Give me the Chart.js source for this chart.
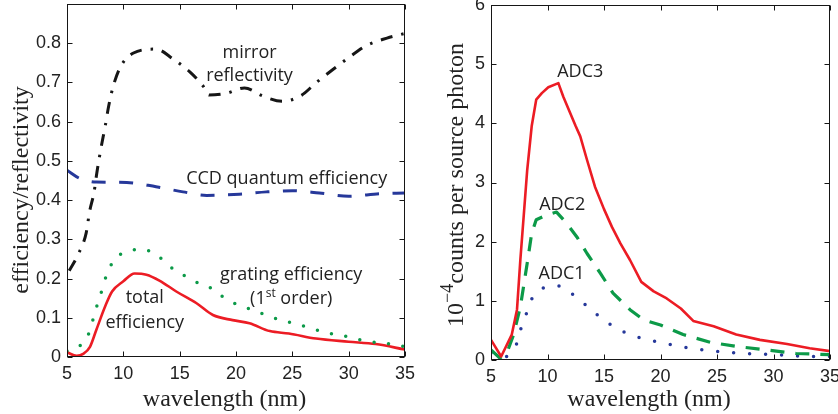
<!DOCTYPE html>
<html>
<head>
<meta charset="utf-8">
<script src="https://cdn.jsdelivr.net/npm/chart.js@4/dist/chart.umd.min.js"></script>
<style>
  html, body { margin: 0; padding: 0; background: #fff; }
  #wrap { position: relative; width: 838px; height: 414px; }
  canvas { position: absolute; top: 0; }
  #effChart { left: 0; }
  #countChart { left: 420px; }
</style>
</head>
<body>
<div id="wrap">
  <canvas id="effChart" width="420" height="414" style="width:420px;height:414px"></canvas>
  <canvas id="countChart" width="418" height="414" style="width:418px;height:414px"></canvas>
</div>
<script>
// ---- wavelength axis (nm) ----
const wavelengthTicks = [5, 10, 15, 20, 25, 30, 35];

// ---- left panel: component efficiencies ----
const effTicks = [0, 0.1, 0.2, 0.3, 0.4, 0.5, 0.6, 0.7, 0.8];

const mirrorWl = [5.2, 6.0, 6.7, 7.0, 7.4, 7.65, 8.0, 8.4, 8.7, 9.1, 9.75, 10.9, 12.9, 14.4, 15.9, 17.1, 17.6, 19.1, 20.75, 22.4, 24.1, 25.8, 27.1, 28.6, 30.0, 31.5, 33.4, 35.0];
const mirrorRefl = [0.22, 0.262, 0.316, 0.37, 0.42, 0.47, 0.53, 0.59, 0.64, 0.69, 0.74, 0.775, 0.785, 0.76, 0.727, 0.69, 0.668, 0.672, 0.686, 0.665, 0.652, 0.667, 0.699, 0.733, 0.763, 0.793, 0.813, 0.825];

const ccdWl = [5.0, 6.15, 7.6, 10.3, 12.9, 15.3, 17.4, 20.3, 22.7, 25.0, 27.4, 30.0, 32.7, 35.0];
const ccdQE = [0.476, 0.455, 0.446, 0.445, 0.434, 0.421, 0.412, 0.415, 0.421, 0.424, 0.418, 0.41, 0.416, 0.418];

const gratingWl = [5.0, 6.2, 6.9, 7.3, 7.7, 8.1, 8.5, 9.16, 10.4, 11.75, 13.1, 14.2, 15.4, 16.7, 17.95, 18.8, 20.1, 21.5, 22.8, 24.1, 25.5, 26.9, 28.3, 29.7, 31.1, 32.5, 34.0, 35.0];
const gratingEff = [0.015, 0.03, 0.058, 0.095, 0.135, 0.17, 0.208, 0.246, 0.27, 0.274, 0.257, 0.229, 0.208, 0.188, 0.173, 0.154, 0.134, 0.12, 0.105, 0.093, 0.083, 0.071, 0.06, 0.053, 0.043, 0.037, 0.032, 0.026];

const totalWl = [5.0, 5.86, 6.44, 7.04, 7.6, 8.4, 9.0, 10.0, 11.0, 12.05, 13.2, 14.7, 16.5, 17.95, 19.7, 21.2, 23.0, 24.7, 27.1, 30.0, 32.4, 35.0];
const totalEff = [0.012, 0.003, 0.008, 0.026, 0.069, 0.13, 0.167, 0.193, 0.213, 0.21, 0.195, 0.167, 0.137, 0.107, 0.094, 0.086, 0.066, 0.06, 0.047, 0.039, 0.033, 0.019];

// ---- right panel: counts per source photon (x 1e-4) ----
const countTicks = [0, 1, 2, 3, 4, 5, 6];

const adc3Wl = [5.0, 5.9, 6.84, 7.3, 7.6, 7.9, 8.2, 8.6, 9.0, 9.5, 10.07, 10.96, 11.4, 12.5, 12.9, 13.5, 14.2, 15.0, 15.7, 16.45, 17.3, 18.3, 19.4, 20.55, 21.8, 22.9, 24.7, 26.7, 28.8, 31.2, 33.2, 35.0];
const adc3 = [0.34, 0.06, 0.43, 0.85, 1.7, 2.45, 3.2, 3.95, 4.4, 4.51, 4.61, 4.68, 4.45, 3.95, 3.78, 3.38, 2.93, 2.55, 2.25, 1.97, 1.69, 1.32, 1.16, 1.04, 0.87, 0.66, 0.57, 0.43, 0.34, 0.27, 0.2, 0.15];

const adc2Wl = [5.0, 5.8, 6.5, 7.0, 7.6, 8.2, 8.6, 9.0, 9.9, 10.8, 11.7, 12.6, 13.5, 14.7, 15.8, 17.3, 18.5, 20.0, 22.0, 24.4, 26.7, 29.4, 32.0, 35.0];
const adc2 = [0.17, 0.03, 0.17, 0.43, 0.9, 1.63, 2.14, 2.37, 2.45, 2.5, 2.31, 2.08, 1.8, 1.46, 1.13, 0.85, 0.68, 0.59, 0.43, 0.3, 0.23, 0.17, 0.11, 0.09];

const adc1Wl = [5.0, 6.4, 7.3, 7.7, 8.2, 8.7, 9.7, 11.05, 12.3, 13.45, 14.6, 15.7, 17.0, 18.4, 19.9, 21.4, 22.85, 24.3, 25.8, 27.3, 28.75, 30.2, 31.7, 33.2, 35.0];
const adc1 = [0.12, 0.06, 0.28, 0.57, 0.82, 1.08, 1.23, 1.25, 1.1, 0.92, 0.73, 0.58, 0.45, 0.36, 0.3, 0.24, 0.19, 0.16, 0.13, 0.11, 0.1, 0.09, 0.07, 0.06, 0.06];

// ---- styling ----
const RED = '#ec1c24', GREEN = '#0c9a48', BLUE = '#26389a', BLACK = '#161616';
const SANS = '"Liberation Sans", Arial, sans-serif';
const LABEL = '"Open Sans", "Noto Sans", sans-serif';
const SERIF = '"Liberation Serif", "Times New Roman", serif';
const TEXT = '#222';

const pts = (xs, ys) => xs.map((x, i) => ({ x, y: ys[i] }));

// draw a row of text runs (for superscripts) centred on cx, baseline at by
function drawRuns(ctx, cx, by, runs, family) {
  let w = 0;
  runs.forEach(r => { ctx.font = r.size + 'px ' + family; r.w = ctx.measureText(r.text).width; w += r.w; });
  let x = cx - w / 2;
  runs.forEach(r => {
    ctx.font = r.size + 'px ' + family;
    ctx.fillText(r.text, x, by + (r.dy || 0));
    x += r.w;
  });
}

// box, inward ticks on all four sides, in-plot labels and axis titles
const framePlugin = {
  id: 'frame',
  afterDatasetsDraw(chart, args, opts) {
    const { ctx, chartArea: a, scales: { x, y } } = chart;
    ctx.save();
    ctx.strokeStyle = BLACK;
    ctx.lineWidth = 1;
    const L = Math.round(a.left) + 0.5, R = Math.round(a.right) - 0.5;
    const T = Math.round(a.top) + 0.5, B = Math.round(a.bottom) - 0.5;
    ctx.strokeRect(L, T, R - L, B - T);
    const tl = 5;
    ctx.beginPath();
    x.ticks.forEach(t => {
      const p = Math.round(x.getPixelForValue(t.value)) + 0.5;
      ctx.moveTo(p, B); ctx.lineTo(p, B - tl);
      ctx.moveTo(p, T); ctx.lineTo(p, T + tl);
    });
    y.ticks.forEach(t => {
      const p = Math.round(y.getPixelForValue(t.value)) + 0.5;
      ctx.moveTo(L, p); ctx.lineTo(L + tl, p);
      ctx.moveTo(R, p); ctx.lineTo(R - tl, p);
    });
    ctx.stroke();

    ctx.fillStyle = TEXT;
    ctx.textBaseline = 'alphabetic';
    ctx.textAlign = 'left';
    (opts.labels || []).forEach(l => {
      drawRuns(ctx, x.getPixelForValue(l.x), y.getPixelForValue(l.y), l.runs, LABEL);
    });

    // axis titles
    const xt = opts.xTitle;
    drawRuns(ctx, xt.cx, xt.by, xt.runs, SERIF);
    const yt = opts.yTitle;
    ctx.save();
    ctx.translate(yt.bx, yt.cy);
    ctx.rotate(-Math.PI / 2);
    drawRuns(ctx, 0, 0, yt.runs, SERIF);
    ctx.restore();
    ctx.restore();
  }
};

function axisOptions(yTicks, yMax, yWidth, xHeight, yFmt) {
  return {
    x: {
      type: 'linear', min: 5, max: 35,
      afterBuildTicks: s => { s.ticks = wavelengthTicks.map(v => ({ value: v })); },
      afterFit: s => { s.height = xHeight; s.paddingLeft = 0; s.paddingRight = 0; },
      grid: { display: false, drawTicks: false },
      border: { display: false },
      ticks: { color: TEXT, font: { family: SANS, size: 18 }, padding: 6, maxRotation: 0 }
    },
    y: {
      type: 'linear', min: 0, max: yMax,
      afterBuildTicks: s => { s.ticks = yTicks.map(v => ({ value: v })); },
      afterFit: s => { s.width = yWidth; s.paddingTop = 0; s.paddingBottom = 0; },
      grid: { display: false, drawTicks: false },
      border: { display: false },
      ticks: { color: TEXT, font: { family: SANS, size: 18 }, padding: 6, callback: yFmt }
    }
  };
}

const lineBase = { pointRadius: 0, fill: false, borderJoinStyle: 'round' };

new Chart(document.getElementById('effChart'), {
  type: 'line',
  data: {
    datasets: [
      Object.assign({ label: 'mirror reflectivity', data: pts(mirrorWl, mirrorRefl), borderColor: BLACK,
        borderWidth: 3, borderDash: [12, 9, 2.5, 9], cubicInterpolationMode: 'monotone' }, lineBase),
      Object.assign({ label: 'CCD quantum efficiency', data: pts(ccdWl, ccdQE), borderColor: BLUE,
        borderWidth: 3, borderDash: [14, 13.5], cubicInterpolationMode: 'monotone' }, lineBase),
      Object.assign({ label: 'grating efficiency (1st order)', data: pts(gratingWl, gratingEff), borderColor: GREEN,
        borderWidth: 3.5, borderDash: [0, 14.5], borderCapStyle: 'round', cubicInterpolationMode: 'monotone' }, lineBase),
      Object.assign({ label: 'total efficiency', data: pts(totalWl, totalEff), borderColor: RED,
        borderWidth: 2.6, cubicInterpolationMode: 'monotone' }, lineBase)
    ]
  },
  options: {
    responsive: false, animation: false, devicePixelRatio: 1,
    layout: { padding: { top: 4, right: 15, bottom: 0, left: 0 } },
    scales: axisOptions(effTicks, 0.9, 67, 57, v => (v === 0 ? '0' : v.toFixed(1))),
    plugins: {
      legend: { display: false }, tooltip: { enabled: false },
      frame: {
        labels: [
          { x: 21.2, y: 0.763, runs: [{ text: 'mirror', size: 18 }] },
          { x: 21.2, y: 0.704, runs: [{ text: 'reflectivity', size: 18 }] },
          { x: 24.5, y: 0.442, runs: [{ text: 'CCD quantum efficiency', size: 18 }] },
          { x: 24.9, y: 0.197, runs: [{ text: 'grating efficiency', size: 18 }] },
          { x: 24.9, y: 0.135, runs: [{ text: '(1', size: 18 }, { text: 'st', size: 12, dy: -7 }, { text: ' order)', size: 18 }] },
          { x: 11.9, y: 0.137, runs: [{ text: 'total', size: 18 }] },
          { x: 11.9, y: 0.075, runs: [{ text: 'efficiency', size: 18 }] }
        ],
        xTitle: { cx: 224.5, by: 406, runs: [{ text: 'wavelength (nm)', size: 24 }] },
        yTitle: { bx: 28, cy: 190, runs: [{ text: 'efficiency/reflectivity', size: 24 }] }
      }
    }
  },
  plugins: [framePlugin]
});

new Chart(document.getElementById('countChart'), {
  type: 'line',
  data: {
    datasets: [
      Object.assign({ label: 'ADC3', data: pts(adc3Wl, adc3), borderColor: RED, borderWidth: 2.6, tension: 0 }, lineBase),
      Object.assign({ label: 'ADC2', data: pts(adc2Wl, adc2), borderColor: GREEN, borderWidth: 3.2,
        borderDash: [14, 11], tension: 0 }, lineBase),
      Object.assign({ label: 'ADC1', data: pts(adc1Wl, adc1), borderColor: BLUE, borderWidth: 3.5,
        borderDash: [0, 16], borderCapStyle: 'round', tension: 0 }, lineBase)
    ]
  },
  options: {
    responsive: false, animation: false, devicePixelRatio: 1,
    layout: { padding: { top: 5, right: 8, bottom: 0, left: 0 } },
    scales: axisOptions(countTicks, 6, 71, 54, v => String(v)),
    plugins: {
      legend: { display: false }, tooltip: { enabled: false },
      frame: {
        labels: [
          { x: 12.9, y: 4.785, runs: [{ text: 'ADC3', size: 18 }] },
          { x: 11.3, y: 2.54, runs: [{ text: 'ADC2', size: 18 }] },
          { x: 11.25, y: 1.375, runs: [{ text: 'ADC1', size: 18 }] }
        ],
        xTitle: { cx: 229, by: 406, runs: [{ text: 'wavelength (nm)', size: 24 }] },
        yTitle: { bx: 43, cy: 185, runs: [{ text: '10', size: 24 }, { text: '\u22124', size: 18, dy: -10 }, { text: 'counts per source photon', size: 24 }] }
      }
    }
  },
  plugins: [framePlugin]
});
</script>
</body>
</html>
